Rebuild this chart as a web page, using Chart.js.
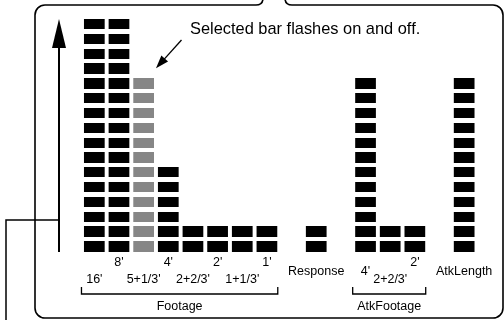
<!DOCTYPE html>
<html>
<head>
<meta charset="utf-8">
<script src="https://cdn.jsdelivr.net/npm/chart.js@4"></script>
<style>
  html, body { margin: 0; padding: 0; background: #fff; }
  #wrap { width: 504px; height: 320px; position: relative; }
</style>
</head>
<body>
<div id="wrap"><canvas id="chart" width="504" height="320"></canvas></div>
<script>
// one slot per bar, blank slots are the spaces between groups
var tickLabels = [
  ['', "16'"], ["8'", ''], ['', "5+1/3'"], ["4'", ''],
  ['', "2+2/3'"], ["2'", ''], ['', "1+1/3'"], ["1'", ''],
  '', 'Response', '', "4'",
  ['', "2+2/3'"], ["2'", ''], '', 'AtkLength'
];
var levels = [16, 16, 12, 6, 2, 2, 2, 2, null, 2, null, 12, 2, 2, null, 12];
var selectedBar = 2;
var maxLevel = 16;

var groups = [
  { name: 'Footage', from: 0, to: 7 },
  { name: 'AtkFootage', from: 11, to: 13 }
];
var note = 'Selected bar flashes on and off.';

var font = '"Liberation Sans", Arial, sans-serif';

var colors = levels.map(function (v, i) {
  return i == selectedBar ? '#868686' : '#000';
});

// cuts each bar into segments and draws the frame, arrows and brackets
var extras = {
  id: 'extras',
  afterDatasetsDraw: function (chart) {
    var ctx = chart.ctx;
    var area = chart.chartArea;
    var y = chart.scales.y;
    ctx.save();
    ctx.fillStyle = '#fff';
    for (var k = 1; k <= maxLevel; k++) {
      var py = y.getPixelForValue(k);
      var t = Math.floor(py), b = Math.round(py + 4);
      ctx.fillRect(area.left, t, area.right - area.left, b - t);
    }
    ctx.restore();
  },
  afterDraw: function (chart) {
    var ctx = chart.ctx;
    var area = chart.chartArea;
    var y = chart.scales.y;
    var bars = chart.getDatasetMeta(0).data;
    ctx.save();
    ctx.strokeStyle = '#000';
    ctx.fillStyle = '#000';
    ctx.lineWidth = 1.6;

    // rounded frame with a notch at the top
    ctx.beginPath();
    ctx.moveTo(263, -2);
    ctx.quadraticCurveTo(263, 5, 256, 5);
    ctx.lineTo(45, 5);
    ctx.arcTo(35, 5, 35, 15, 10);
    ctx.lineTo(35, 308);
    ctx.arcTo(35, 318, 45, 318, 10);
    ctx.lineTo(493, 318);
    ctx.arcTo(503, 318, 503, 308, 10);
    ctx.lineTo(503, 15);
    ctx.arcTo(503, 5, 493, 5, 10);
    ctx.lineTo(292, 5);
    ctx.quadraticCurveTo(285, 5, 285, -2);
    ctx.stroke();

    // vertical arrow
    var ax = area.left - 23;
    var top = y.getPixelForValue(maxLevel) + 4;
    ctx.lineWidth = 2;
    ctx.beginPath();
    ctx.moveTo(ax, area.bottom);
    ctx.lineTo(ax, top + 20);
    ctx.stroke();
    ctx.beginPath();
    ctx.moveTo(ax, top);
    ctx.lineTo(ax - 7, top + 29);
    ctx.lineTo(ax + 7, top + 29);
    ctx.closePath();
    ctx.fill();

    // leader line to the left edge
    ctx.lineWidth = 1.5;
    ctx.beginPath();
    ctx.moveTo(ax, 220);
    ctx.lineTo(6, 220);
    ctx.lineTo(6, 322);
    ctx.stroke();

    // note and its arrow
    ctx.font = '16.4px ' + font;
    ctx.textAlign = 'left';
    ctx.textBaseline = 'middle';
    ctx.fillText(note, 190, 29);
    var sel = bars[selectedBar];
    var tx = sel.x + sel.width / 2 + 2, ty = sel.y - 6;
    var fx = 181.5, fy = 40;
    var ang = Math.atan2(ty - fy, tx - fx);
    ctx.lineWidth = 1.3;
    ctx.beginPath();
    ctx.moveTo(fx, fy);
    ctx.lineTo(tx - 10 * Math.cos(ang), ty - 10 * Math.sin(ang));
    ctx.stroke();
    ctx.beginPath();
    ctx.moveTo(tx, ty);
    ctx.lineTo(tx - 13 * Math.cos(ang) + 4.5 * Math.sin(ang), ty - 13 * Math.sin(ang) - 4.5 * Math.cos(ang));
    ctx.lineTo(tx - 13 * Math.cos(ang) - 4.5 * Math.sin(ang), ty - 13 * Math.sin(ang) + 4.5 * Math.cos(ang));
    ctx.closePath();
    ctx.fill();

    // group brackets
    ctx.font = '12.5px ' + font;
    ctx.textAlign = 'center';
    ctx.lineWidth = 1.3;
    groups.forEach(function (g) {
      var a = bars[g.from], b = bars[g.to];
      var l = a.x - a.width / 2 - 2.5, r = b.x + b.width / 2 + 0.5;
      ctx.beginPath();
      ctx.moveTo(l, 287);
      ctx.lineTo(l, 294);
      ctx.lineTo(r, 294);
      ctx.lineTo(r, 287);
      ctx.stroke();
      ctx.fillText(g.name, (l + r) / 2, 306.5);
    });
    ctx.restore();
  }
};

new Chart(document.getElementById('chart'), {
  type: 'bar',
  data: {
    labels: tickLabels,
    datasets: [{
      data: levels,
      backgroundColor: colors,
      borderWidth: 0,
      barPercentage: 0.84,
      categoryPercentage: 1
    }]
  },
  options: {
    responsive: false,
    animation: false,
    devicePixelRatio: 1,
    layout: { padding: { left: 82, right: 22, top: 15, bottom: 0 } },
    plugins: { legend: { display: false }, tooltip: { enabled: false } },
    scales: {
      x: {
        grid: { display: false, drawTicks: false },
        border: { display: false },
        afterFit: function (scale) { scale.height = 68; },
        ticks: {
          autoSkip: false,
          maxRotation: 0,
          padding: 11,
          crossAlign: 'center',
          color: '#000',
          font: { family: font, size: 12.5, lineHeight: 1.3 }
        }
      },
      y: { display: false, min: 0, max: maxLevel }
    }
  },
  plugins: [extras]
});
</script>
</body>
</html>
